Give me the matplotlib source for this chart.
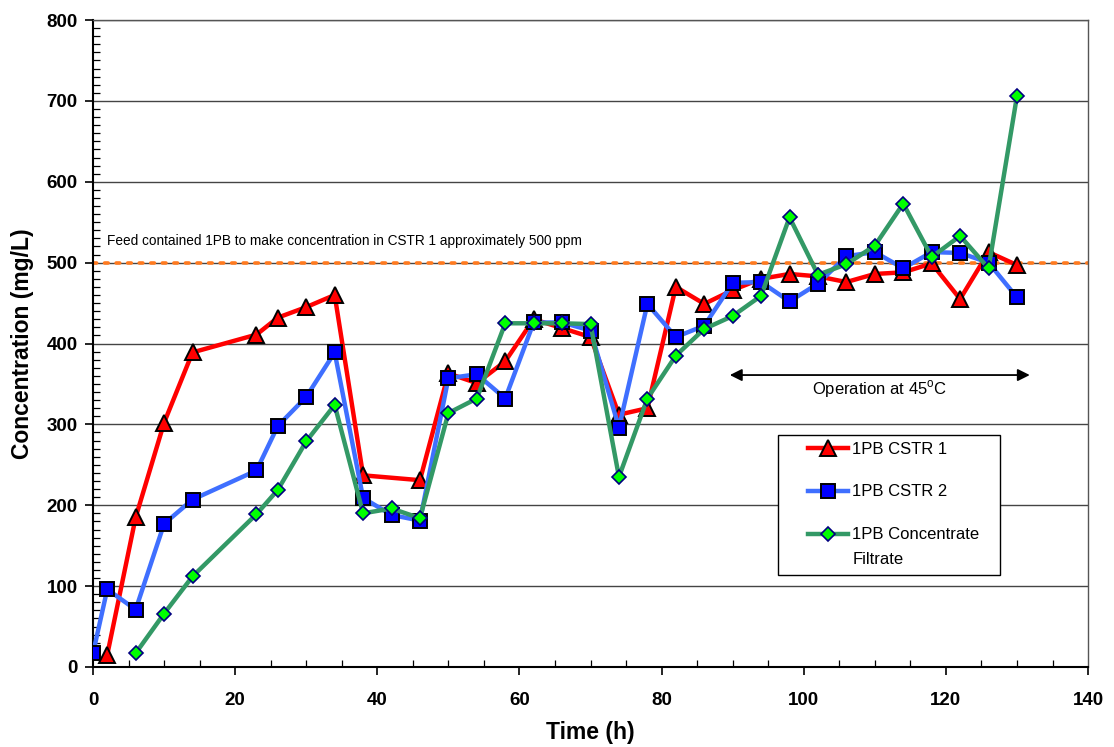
import matplotlib
matplotlib.use('Agg')
import matplotlib.pyplot as plt
from matplotlib.ticker import MultipleLocator
from matplotlib.legend_handler import HandlerLine2D
from matplotlib.patches import Rectangle

plt.rcParams['font.family'] = ['Liberation Sans', 'DejaVu Sans']
plt.rcParams['mathtext.fontset'] = 'custom'
plt.rcParams['mathtext.rm'] = 'Liberation Sans'

# 1PB in CSTR 1
t_cstr1 = [2, 6, 10, 14, 23, 26, 30, 34, 38, 46, 50, 54, 58, 62, 66, 70, 74, 78,
           82, 86, 90, 94, 98, 102, 106, 110, 114, 118, 122, 126, 130]
c_cstr1 = [15, 185, 302, 389, 411, 432, 445, 460, 237, 231, 363, 351, 378, 430, 419, 408, 312, 320,
           470, 449, 466, 480, 486, 483, 476, 486, 488, 499, 455, 513, 497]

# 1PB in CSTR 2
t_cstr2 = [0, 2, 6, 10, 14, 23, 26, 30, 34, 38, 42, 46, 50, 54, 58, 62, 66, 70, 74, 78,
           82, 86, 90, 94, 98, 102, 106, 110, 114, 118, 122, 126, 130]
c_cstr2 = [17, 96, 71, 177, 207, 243, 298, 334, 389, 209, 188, 181, 357, 362, 332, 426, 426, 416, 296, 449,
           408, 422, 475, 476, 452, 474, 508, 513, 493, 513, 512, 500, 457]

# 1PB in concentrate filtrate
t_filt = [6, 10, 14, 23, 26, 30, 34, 38, 42, 46, 50, 54, 58, 62, 66, 70, 74, 78,
          82, 86, 90, 94, 98, 102, 106, 110, 114, 118, 122, 126, 130]
c_filt = [17, 66, 112, 189, 219, 279, 324, 190, 196, 184, 314, 332, 425, 425, 425, 424, 235, 332,
          385, 418, 434, 459, 556, 485, 498, 521, 573, 507, 533, 493, 706]

feed_target = 500
op_start, op_end = 89.6, 131.8


class RaisedLine(HandlerLine2D):
    """Line handle lifted up so it sits next to the first line of a two-line label."""
    def __init__(self, lift, **kw):
        super().__init__(**kw)
        self.lift = lift

    def create_artists(self, legend, orig_handle, xdescent, ydescent, width, height, fontsize, trans):
        return super().create_artists(legend, orig_handle, xdescent, ydescent - 2 * self.lift,
                                      width, height, fontsize, trans)


fig = plt.figure(figsize=(11.14, 7.47), dpi=100)
ax = fig.add_axes([0.0835, 0.1071, 0.8932, 0.8661])

ax.set_xlim(0, 140)
ax.set_ylim(0, 800)
ax.xaxis.set_major_locator(MultipleLocator(20))
ax.xaxis.set_minor_locator(MultipleLocator(5))
ax.yaxis.set_major_locator(MultipleLocator(100))
ax.yaxis.set_minor_locator(MultipleLocator(10))
ax.yaxis.grid(True, which='major', color='#444444', linewidth=1)
ax.set_axisbelow(True)

ax.tick_params(which='major', direction='out', length=6, width=1.2, labelsize=13.5)
ax.tick_params(axis='x', which='major', pad=12)
ax.tick_params(axis='y', which='major', pad=5)
ax.tick_params(which='minor', direction='in', length=5, width=0.9)
for lab in ax.get_xticklabels() + ax.get_yticklabels():
    lab.set_fontweight('bold')
for side in ['left', 'bottom']:
    ax.spines[side].set_linewidth(1.5)
for side in ['top', 'right']:
    ax.spines[side].set_color('#555555')
    ax.spines[side].set_linewidth(1)

# target line from the feed
ax.axhline(feed_target, color='#FF7A1F', linestyle=(0, (1, 2.2)), linewidth=2.6,
           dash_capstyle='round', zorder=1.5)
ax.text(2, 527, 'Feed contained 1PB to make concentration in CSTR 1 approximately 500 ppm',
        fontsize=9.8, va='center', ha='left')

ax.plot(t_cstr1, c_cstr1, color='#FF0000', linewidth=3.2, marker='^', markersize=11.5,
        markerfacecolor='#FF0000', markeredgecolor='black', markeredgewidth=1.4,
        label='1PB CSTR 1', zorder=3)
ax.plot(t_cstr2, c_cstr2, color='#3F6FFF', linewidth=3.2, marker='s', markersize=9.5,
        markerfacecolor='#0000FF', markeredgecolor='black', markeredgewidth=1.4,
        label='1PB CSTR 2', zorder=4)
filt_line, = ax.plot(t_filt, c_filt, color='#339966', linewidth=3.2, marker='D', markersize=7,
                     markerfacecolor='#00FF00', markeredgecolor='#000080', markeredgewidth=1.2,
                     label='1PB Concentrate\nFiltrate', zorder=5)

# high temperature operating window
ax.annotate('', xy=(op_start, 361), xytext=(op_end, 361),
            arrowprops=dict(arrowstyle='<|-|>', color='black', lw=1.3,
                            mutation_scale=18, shrinkA=0, shrinkB=0))
ax.text((op_start + op_end) / 2, 344, 'Operation at 45$^{\\mathrm{o}}$C',
        fontsize=12, ha='center', va='center')

ax.set_xlabel('Time (h)', fontsize=16.5, fontweight='bold', labelpad=9)
ax.set_ylabel('Concentration (mg/L)', fontsize=16.5, fontweight='bold', labelpad=9)

# legend box drawn separately so the entries can sit well inside it
ax.add_patch(Rectangle((0.688, 0.1422), 0.2231, 0.2164, transform=ax.transAxes,
                       facecolor='white', edgecolor='black', linewidth=1, zorder=6))
leg = ax.legend(loc='upper left', bbox_to_anchor=(0.7186, 0.3478), fontsize=12,
                frameon=False, handlelength=2.4, handletextpad=0.25, labelspacing=1.65,
                borderpad=0, borderaxespad=0,
                handler_map={filt_line: RaisedLine(lift=9)})
leg.set_zorder(7)
leg.get_texts()[2].set_linespacing(1.8)

plt.savefig('out.png', dpi=100)
